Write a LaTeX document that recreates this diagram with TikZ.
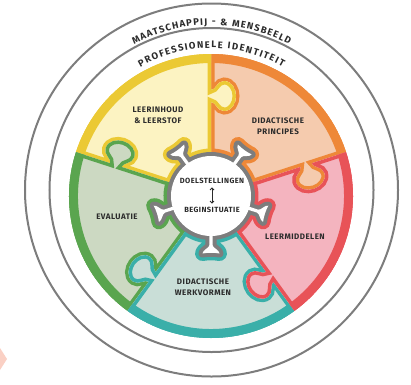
\documentclass[tikz,border=0pt]{standalone}
\usepackage{fontspec}
\setmainfont{Fira Sans}
\newfontfamily\lblfont{Fira Sans}[LetterSpace=6]
\usepackage{xcolor}
\usepackage{tikz}
\usetikzlibrary{arrows.meta,decorations.text}

\definecolor{geel}{HTML}{EBC934}
\definecolor{geelL}{HTML}{FCF3C2}
\definecolor{oranje}{HTML}{EE8838}
\definecolor{oranjeL}{HTML}{F5CBAE}
\definecolor{rood}{HTML}{E85358}
\definecolor{roodL}{HTML}{F4B4BF}
\definecolor{turkoois}{HTML}{3AAFA9}
\definecolor{turkooisL}{HTML}{C9DED7}
\definecolor{groen}{HTML}{5AA54F}
\definecolor{groenL}{HTML}{CCD9C2}
\definecolor{rand}{HTML}{7D7D7D}
\definecolor{tekst}{HTML}{2B2B2B}
\definecolor{zalm}{HTML}{FAD0C4}

\newcommand\stuk{(30,0) -- (94,0) .. controls (94,-5) and (85,-6) .. (85,-13) .. controls (85,-21) and (93,-25) .. (100,-25) .. controls (107,-25) and (115,-21) .. (115,-13) .. controls (115,-6) and (106,-5) .. (106,0) -- (142,0) arc[start angle=0,end angle=72,radius=142] -- ([rotate=72]106,0) .. controls ([rotate=72]106,-5) and ([rotate=72]115,-6) .. ([rotate=72]115,-13) .. controls ([rotate=72]115,-21) and ([rotate=72]107,-25) .. ([rotate=72]100,-25) .. controls ([rotate=72]93,-25) and ([rotate=72]85,-21) .. ([rotate=72]85,-13) .. controls ([rotate=72]85,-6) and ([rotate=72]94,-5) .. ([rotate=72]94,0) -- ([rotate=72]30,0) arc[start angle=72,end angle=0,radius=30] -- cycle}
\newcommand\nop{(35,-1.6) -- (49,-1.6) .. controls (52,-1.6) and (54,-8.5) .. (57.5,-8.5) .. controls (56.5,-3) and (56.5,3) .. (57.5,8.5) .. controls (54,8.5) and (52,1.6) .. (49,1.6) -- (35,1.6) -- cycle}

\tikzset{
    ring/.style={draw=rand,line width=2},
    lbl/.style={font=\lblfont\bfseries\fontsize{8}{11}\selectfont,align=center,text=tekst,inner sep=1.5pt},
    midlbl/.style={lbl,font=\lblfont\bfseries\fontsize{7.5}{10}\selectfont},
    pijl/.style={{Straight Barb[length=2pt]}-{Straight Barb[length=2pt]},line width=0.8pt,tekst,shorten >=2pt,shorten <=2pt},
    boog/.style={decorate,decoration={text along path,text align=fit to path,text={|\bfseries\fontsize{9.5}{10}\selectfont\color{tekst}|#1}}}
}

\begin{document}
\begin{tikzpicture}[x=1pt,y=1pt]
    \useasboundingbox (-211,-188) rectangle (200,196);
    \coordinate (m) at (0,0);
    \coordinate (r) at (0.5,6);
    \draw[ring] (r) circle (186.5);
    \draw[ring] (r) circle (162);
    \foreach \hoek/\kl in {18/oranje,90/geel,162/groen,234/turkoois,306/rood}{
        \begin{scope}[rotate=\hoek]
            \clip \stuk;
            \fill[fill=\kl L] \stuk;
            \draw[\kl,line width=7] \stuk;
            \draw[\kl,line width=18] (m) circle (142);
            \draw[\kl,line width=15] (m) circle (40);
            \draw[\kl,line width=15,line join=round,rotate=36] \nop;
        \end{scope}
    }
    \draw[rand,line width=8] (m) circle (40);
    \foreach \h in {54,126,198,270,342}
        \draw[rand,line width=8,line join=round,rotate=\h] \nop;
    \fill[white] (m) circle (40);
    \foreach \h in {54,126,198,270,342}
        \fill[white,rotate=\h] \nop;
    \path[boog={MAATSCHAPPIJ - {\&} MENSBEELD}] (r) ++(118:165) arc[start angle=118,end angle=62,radius=165];
    \path[boog={PROFESSIONELE IDENTITEIT}] (r) ++(120:142) arc[start angle=120,end angle=60,radius=142];
    \node[lbl] (inhoud) at (-53,81) {LEERINHOUD\\\& LEERSTOF};
    \node[lbl] (principes) at (67,70) {DIDACTISCHE\\PRINCIPES};
    \node[lbl] (middelen) at (84,-41) {LEERMIDDELEN};
    \node[lbl] (werkvormen) at (-8,-91) {DIDACTISCHE\\WERKVORMEN};
    \node[lbl] (evaluatie) at (-94,-21) {EVALUATIE};
    \node[midlbl] (doel) at (1,15) {DOELSTELLINGEN};
    \node[midlbl] (begin) at (1,-14) {BEGINSITUATIE};
    \draw[pijl] (doel) -- (begin);
    \fill[zalm] (-211,-152) -- (-204,-163) -- (-211,-174) -- cycle;
\end{tikzpicture}
\end{document}
